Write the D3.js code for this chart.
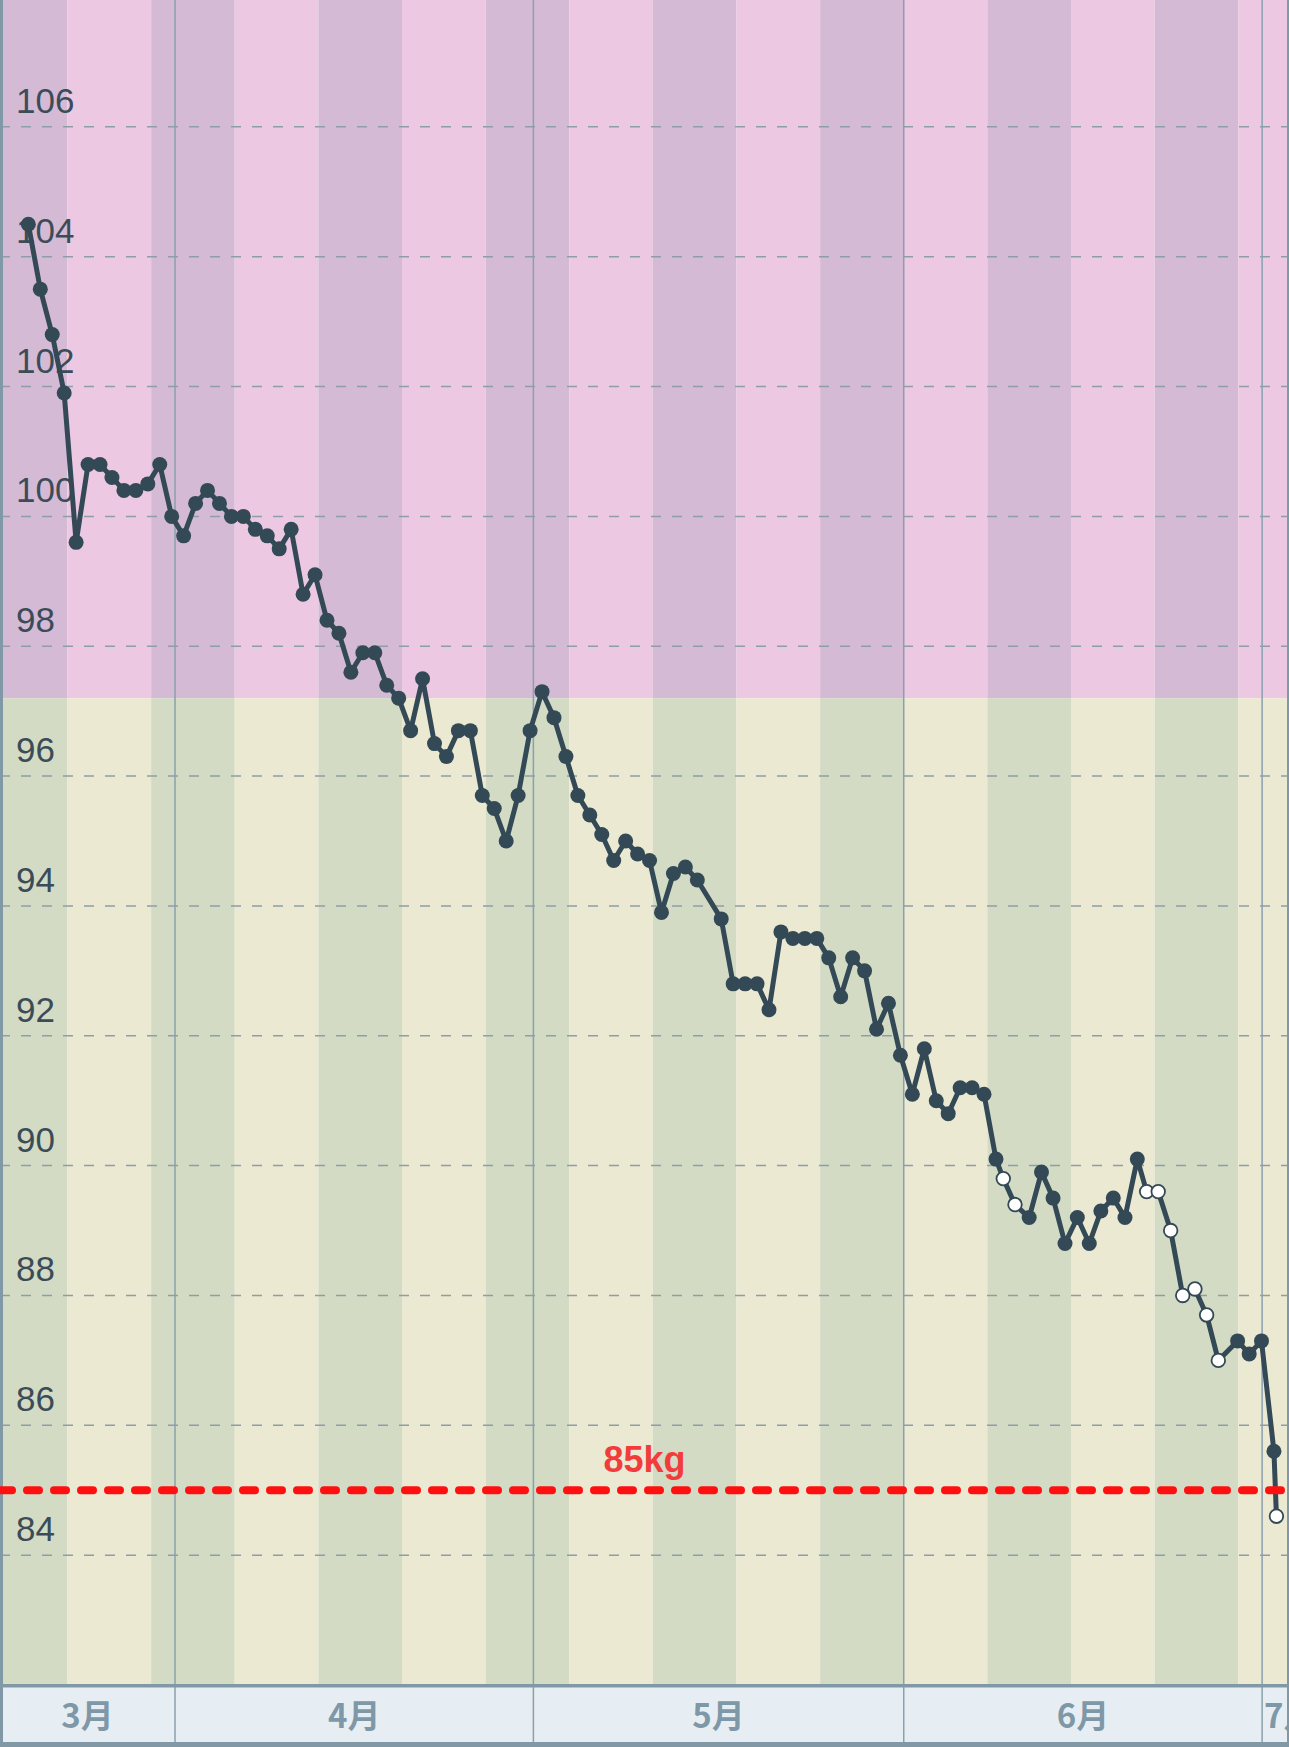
<!DOCTYPE html>
<html><head><meta charset="utf-8">
<script src="https://cdn.jsdelivr.net/npm/d3@7"></script>
<style>html,body{margin:0;padding:0;background:#fff;}svg{display:block}</style>
</head><body>
<svg id="chart" width="1289" height="1747"></svg>
<script>
// ---------- data ----------
const dates = [
"2025-03-19 17:20","2025-03-20 17:20","2025-03-21 17:20","2025-03-22 17:20","2025-03-23 17:20","2025-03-24 17:20","2025-03-25 17:20",
"2025-03-26 17:20","2025-03-27 17:20","2025-03-28 17:20","2025-03-29 17:20","2025-03-30 17:20","2025-03-31 17:20",
"2025-04-01 17:20","2025-04-02 17:20","2025-04-03 17:20","2025-04-04 17:20","2025-04-05 17:20","2025-04-06 17:20","2025-04-07 17:20",
"2025-04-08 17:20","2025-04-09 17:20","2025-04-10 17:20","2025-04-11 17:20","2025-04-12 17:20","2025-04-13 17:20","2025-04-14 17:20",
"2025-04-15 17:20","2025-04-16 17:20","2025-04-17 17:20","2025-04-18 17:20","2025-04-19 17:20","2025-04-20 17:20","2025-04-21 17:20",
"2025-04-22 17:20","2025-04-23 17:20","2025-04-24 17:20","2025-04-25 17:20","2025-04-26 17:20","2025-04-27 17:20","2025-04-28 17:20",
"2025-04-29 17:20","2025-04-30 17:20",
"2025-05-01 17:20","2025-05-02 17:20","2025-05-03 17:20","2025-05-04 17:20","2025-05-05 17:20","2025-05-06 17:20","2025-05-07 17:20",
"2025-05-08 17:20","2025-05-09 17:20","2025-05-10 17:20","2025-05-11 17:20","2025-05-12 17:20","2025-05-13 17:20","2025-05-14 17:20",
"2025-05-16 17:20","2025-05-17 17:20","2025-05-18 17:20","2025-05-19 17:20","2025-05-20 17:20","2025-05-21 17:20","2025-05-22 17:20",
"2025-05-23 17:20","2025-05-24 17:20","2025-05-25 17:20","2025-05-26 17:20","2025-05-27 17:20","2025-05-28 17:20","2025-05-29 17:20",
"2025-05-30 17:20","2025-05-31 17:20",
"2025-06-01 17:20","2025-06-02 17:20","2025-06-03 17:20","2025-06-04 17:20","2025-06-05 17:20","2025-06-06 17:20","2025-06-07 17:20",
"2025-06-08 17:20","2025-06-09 08:00","2025-06-10 07:30","2025-06-11 12:00","2025-06-12 12:45","2025-06-13 12:00","2025-06-14 12:00",
"2025-06-15 12:45","2025-06-16 12:45","2025-06-17 12:00","2025-06-18 13:00","2025-06-19 12:30","2025-06-20 13:15","2025-06-21 08:00",
"2025-06-22 07:15","2025-06-23 08:15","2025-06-24 08:30","2025-06-25 09:00","2025-06-26 08:30","2025-06-27 08:00","2025-06-28 22:45",
"2025-06-29 22:00","2025-06-30 22:45","2025-07-01 23:45","2025-07-02 04:45"
];
const weights = [
104.5,103.5,102.8,101.9,99.6,100.8,100.8,
100.6,100.4,100.4,100.5,100.8,100.0,
99.7,100.2,100.4,100.2,100.0,100.0,99.8,
99.7,99.5,99.8,98.8,99.1,98.4,98.2,
97.6,97.9,97.9,97.4,97.2,96.7,97.5,
96.5,96.3,96.7,96.7,95.7,95.5,95.0,
95.7,96.7,
97.3,96.9,96.3,95.7,95.4,95.1,94.7,
95.0,94.8,94.7,93.9,94.5,94.6,94.4,
93.8,92.8,92.8,92.8,92.4,93.6,93.5,
93.5,93.5,93.2,92.6,93.2,93.0,92.1,
92.5,91.7,
91.1,91.8,91.0,90.8,91.2,91.2,91.1,
90.1,89.8,89.4,89.2,89.9,89.5,88.8,
89.2,88.8,89.3,89.5,89.2,90.1,89.6,
89.6,89.0,88.0,88.1,87.7,87.0,87.3,
87.1,87.3,85.6,84.6
];
const yTicks = [84,86,88,90,92,94,96,98,100,102,104,106];
const monthLabels = ["3月","4月","5月","6月","7月"];
const xDomain = ["2025-03-17 08:24","2025-07-03 06:00"];
const yDomain = [82, 108];
const targetWeight = 85;
const targetLabel = "85kg";
const obeseLimit = 97.2;

// ---------- layout ----------
const W = 1289, H = 1747;
const plotBottom = 1685, axisBottom = 1742;
const parse = d3.utcParse("%Y-%m-%d %H:%M");
const data = dates.map((d,i)=>({t:parse(d), v:weights[i]}));

const x = d3.scaleUtc().domain(xDomain.map(parse)).range([0, W]);
const y = d3.scaleLinear().domain(yDomain).range([plotBottom, -3]);

const svg = d3.select("#chart");
const defs = svg.append("defs");
defs.append("clipPath").attr("id","plotClip").append("rect")
  .attr("x",0).attr("y",0).attr("width",W).attr("height",plotBottom);

// background weekly stripes, two zones
const gBg = svg.append("g").attr("clip-path","url(#plotClip)");
const [d0,d1] = x.domain();
const weeks = d3.utcWeek.range(d3.utcWeek.floor(d0), d1);
const ref = d3.utcWeek.floor(d0);
const zones = [
  {top: yDomain[1], bottom: obeseLimit, light:"#ecc8e2", dark:"#d5bad6"},
  {top: obeseLimit, bottom: yDomain[0], light:"#ebe9d2", dark:"#d3dbc5"}
];
zones.forEach(z=>{
  const yTop = z.top===yDomain[1] ? y(z.top)-10 : y(z.top);
  const yBot = z.bottom===yDomain[0] ? y(z.bottom)+10 : y(z.bottom);
  gBg.selectAll(null).data(weeks).enter().append("rect")
    .attr("x", w=>x(w))
    .attr("width", w=>x(d3.utcWeek.offset(w,1))-x(w))
    .attr("y", yTop)
    .attr("height", yBot-yTop)
    .attr("fill", w=> (Math.round((w-ref)/(7*864e5))%2===0) ? z.dark : z.light);
});

// horizontal dashed grid
svg.append("g").selectAll("line").data(yTicks).enter().append("line")
  .attr("x1",0).attr("x2",W).attr("y1",d=>y(d)).attr("y2",d=>y(d))
  .attr("stroke","#8d9ea8").attr("stroke-width",1.5).attr("stroke-dasharray","10,11");

// axis band
svg.append("rect").attr("x",0).attr("y",plotBottom).attr("width",W).attr("height",axisBottom-plotBottom).attr("fill","#e7eef3");

// month lines
const months = d3.utcMonth.range(d3.utcMonth.ceil(d0), d1);
svg.append("g").selectAll("line").data(months).enter().append("line")
  .attr("x1",d=>x(d)).attr("x2",d=>x(d)).attr("y1",0).attr("y2",axisBottom)
  .attr("stroke","#8aa0ae").attr("stroke-width",1.5);

// y labels
svg.append("g").selectAll("text").data(yTicks).enter().append("text")
  .attr("x",16).attr("y",d=>y(d)-14)
  .attr("font-family","'Liberation Sans', Arial, sans-serif").attr("font-size",35)
  .attr("fill","#3b4c58").text(d=>d);

// month labels
const monthStarts = d3.utcMonth.range(d3.utcMonth.floor(d0), d1);
defs.append("clipPath").attr("id","axClip").append("rect")
  .attr("x",0).attr("y",plotBottom).attr("width",W-2).attr("height",axisBottom-plotBottom);
const gM = svg.append("g").attr("clip-path","url(#axClip)");
monthStarts.forEach((m,i)=>{
  const a = Math.max(0, x(m)), b = Math.min(W-2, x(d3.utcMonth.offset(m,1)));
  const narrow = (b-a) < 60;
  gM.append("text")
    .attr("x", narrow ? a+2 : (a+b)/2)
    .attr("y", 1728)
    .attr("text-anchor", narrow ? "start" : "middle")
    .attr("font-family","'Noto Sans CJK JP', sans-serif").attr("font-weight","bold")
    .attr("font-size",33).attr("fill","#7f98a7")
    .text(monthLabels[i]);
});

// borders
svg.append("rect").attr("x",0).attr("y",plotBottom-1).attr("width",W).attr("height",3.5).attr("fill","#8198a6");
svg.append("rect").attr("x",0).attr("y",axisBottom).attr("width",W).attr("height",H-axisBottom).attr("fill","#8198a6");
svg.append("rect").attr("x",0).attr("y",0).attr("width",3).attr("height",H).attr("fill","#8198a6");
svg.append("rect").attr("x",W-2).attr("y",0).attr("width",2).attr("height",H).attr("fill","#8198a6");

// data line
const gData = svg.append("g").attr("clip-path","url(#plotClip)");
gData.append("path").datum(data)
  .attr("d", d3.line().x(d=>x(d.t)).y(d=>y(d.v)))
  .attr("fill","none").attr("stroke","#334956").attr("stroke-width",5).attr("stroke-linejoin","round");

// target line
svg.append("line").attr("x1",0).attr("x2",W).attr("y1",y(targetWeight)).attr("y2",y(targetWeight))
  .attr("stroke","#ff1010").attr("stroke-width",8).attr("stroke-linecap","round").attr("stroke-dasharray","12,15");
svg.append("text").attr("x",W/2).attr("y",y(targetWeight)-18).attr("text-anchor","middle")
  .attr("font-family","'Liberation Sans', Arial, sans-serif").attr("font-weight","bold").attr("font-size",36)
  .attr("fill","#f23c3c").text(targetLabel);

// markers
const isMorning = d => d.t.getUTCHours() < 10;
gData.selectAll("circle").data(data).enter().append("circle")
  .attr("cx",d=>x(d.t)).attr("cy",d=>y(d.v))
  .attr("r", d=> isMorning(d) ? 6.8 : 7.5)
  .attr("fill", d=> isMorning(d) ? "#ffffff" : "#334956")
  .attr("stroke","#334956").attr("stroke-width", d=> isMorning(d) ? 1.8 : 0);
</script>
</body></html>
